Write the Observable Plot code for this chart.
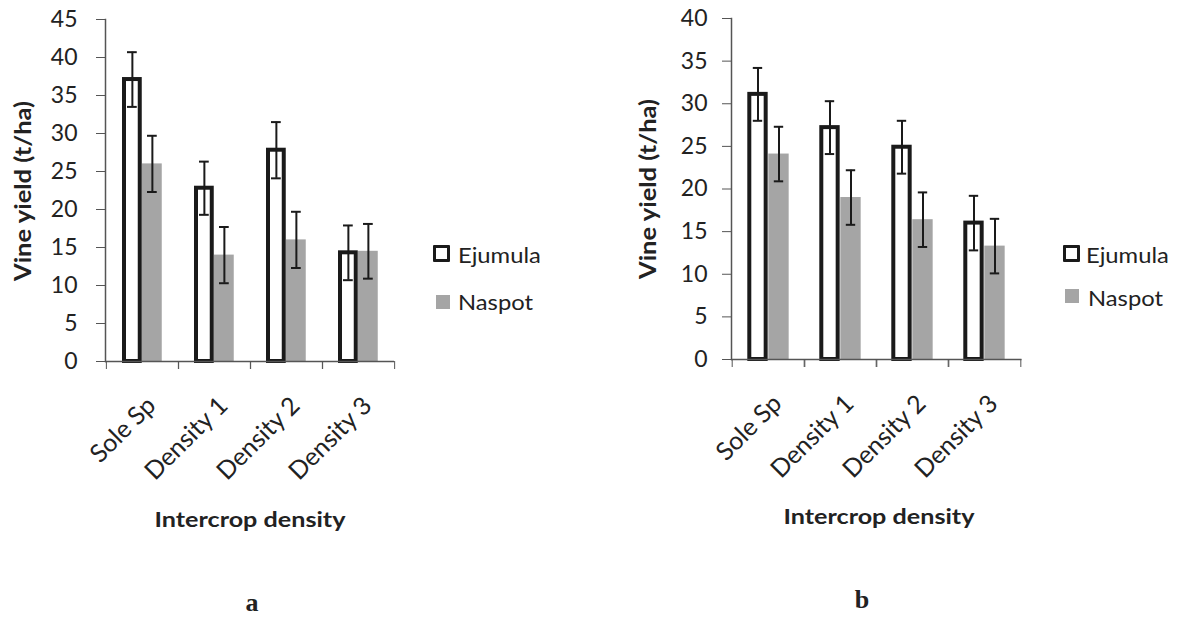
<!DOCTYPE html>
<html><head><meta charset="utf-8">
<script src="https://cdn.jsdelivr.net/npm/d3@7"></script>
<script src="https://cdn.jsdelivr.net/npm/@observablehq/plot@0.6"></script>
<style>
body{margin:0;background:#fff;width:1183px;height:619px;position:relative;overflow:hidden;font-family:Lato,sans-serif;color:#222}
.abs{position:absolute;white-space:nowrap}
.c{transform:translate(-50%,-50%) scaleX(1.17)}
.bold{font-weight:bold;font-size:21.5px}
.ylab{font-weight:bold;font-size:22px;transform:translate(-50%,-50%) rotate(-90deg) scaleX(1.16)}
.leg{font-size:22px;transform:translateY(-50%) scaleX(1.08);transform-origin:left center}
.boxE{width:11px;height:11px;border:3.5px solid #1a1a1a;background:#fff;border-radius:1px}
.boxN{width:14px;height:14px;background:#a5a5a5}
.panel{font-family:"Liberation Serif",serif;font-weight:bold;font-size:26px;color:#222;transform:translate(-50%,-50%)}
</style></head><body>
<div id="chartA" class="abs" style="left:0;top:0"></div>
<div id="chartB" class="abs" style="left:600px;top:0"></div>

<div class="abs ylab" style="left:22px;top:191px">Vine yield (t/ha)</div>
<div class="abs ylab" style="left:647px;top:189px">Vine yield (t/ha)</div>
<div class="abs bold c" style="left:250px;top:519px">Intercrop density</div>
<div class="abs bold c" style="left:879px;top:516px">Intercrop density</div>
<div class="abs panel" style="left:252px;top:603px">a</div>
<div class="abs panel" style="left:862px;top:600px">b</div>

<div class="abs boxE" style="left:433px;top:245px"></div>
<div class="abs leg" style="left:458px;top:254px">Ejumula</div>
<div class="abs boxN" style="left:436px;top:295px"></div>
<div class="abs leg" style="left:458px;top:301px">Naspot</div>
<div class="abs boxE" style="left:1063px;top:245px"></div>
<div class="abs leg" style="left:1086px;top:254px">Ejumula</div>
<div class="abs boxN" style="left:1065px;top:289px"></div>
<div class="abs leg" style="left:1088px;top:297px">Naspot</div>

<script>
const categories = ["Sole Sp", "Density 1", "Density 2", "Density 3"];
const varieties = ["Ejumula", "Naspot"];

// Panel a
const ejumulaA = [37.1, 22.8, 27.8, 14.3];
const ejumulaErrA = [3.6, 3.5, 3.7, 3.6];
const naspotA = [26.0, 14.0, 16.0, 14.5];
const naspotErrA = [3.7, 3.7, 3.7, 3.6];
const yTicksA = [0, 5, 10, 15, 20, 25, 30, 35, 40, 45];

// Panel b
const ejumulaB = [31.1, 27.2, 24.9, 16.0];
const ejumulaErrB = [3.1, 3.1, 3.1, 3.2];
const naspotB = [24.1, 19.0, 16.4, 13.3];
const naspotErrB = [3.2, 3.2, 3.2, 3.2];
const yTicksB = [0, 5, 10, 15, 20, 25, 30, 35, 40];

function buildRows(ej, ejErr, na, naErr) {
  const out = [];
  categories.forEach((c, i) => {
    out.push({cat: c, variety: varieties[0], value: ej[i], err: ejErr[i]});
    out.push({cat: c, variety: varieties[1], value: na[i], err: naErr[i]});
  });
  return out;
}

function draw(data, yTicks, g) {
  const band = (g.width - g.marginLeft - g.marginRight) / categories.length;
  const ej = data.filter(d => d.variety === "Ejumula");
  const na = data.filter(d => d.variety === "Naspot");
  const sw = 4;
  const ejC = g.pad + g.barW / 2;
  const naC = g.pad + 1.5 * g.barW;
  const capW = 10;
  const ink = "#1a1a1a";
  const axisInk = "#555";
  return Plot.plot({
    width: g.width, height: 619,
    marginLeft: g.marginLeft, marginRight: g.marginRight,
    marginTop: g.marginTop, marginBottom: g.marginBottom,
    style: {fontFamily: "Lato, sans-serif", fontSize: "23px", color: "#222", background: "transparent"},
    x: {domain: categories, padding: 0, label: null},
    y: {domain: [0, yTicks[yTicks.length - 1]], label: null},
    marks: [
      Plot.barY(ej, {x: "cat", y: "value", fill: "#fff", stroke: ink, strokeWidth: sw,
        insetLeft: g.pad + sw / 2, insetRight: band - g.pad - g.barW + sw / 2}),
      Plot.barY(na, {x: "cat", y: "value", fill: "#a5a5a5",
        insetLeft: g.pad + g.barW, insetRight: band - g.pad - 2 * g.barW}),
      Plot.ruleX(ej, {x: "cat", y1: d => d.value - d.err, y2: d => d.value + d.err, dx: ejC - band / 2, stroke: ink, strokeWidth: 2}),
      Plot.ruleX(na, {x: "cat", y1: d => d.value - d.err, y2: d => d.value + d.err, dx: naC - band / 2, stroke: ink, strokeWidth: 2}),
      Plot.tickY(ej, {x: "cat", y: d => d.value + d.err, insetLeft: ejC - capW / 2, insetRight: band - ejC - capW / 2, stroke: ink, strokeWidth: 2}),
      Plot.tickY(ej, {x: "cat", y: d => d.value - d.err, insetLeft: ejC - capW / 2, insetRight: band - ejC - capW / 2, stroke: ink, strokeWidth: 2}),
      Plot.tickY(na, {x: "cat", y: d => d.value + d.err, insetLeft: naC - capW / 2, insetRight: band - naC - capW / 2, stroke: ink, strokeWidth: 2}),
      Plot.tickY(na, {x: "cat", y: d => d.value - d.err, insetLeft: naC - capW / 2, insetRight: band - naC - capW / 2, stroke: ink, strokeWidth: 2}),
      Plot.frame({anchor: "left", stroke: axisInk, strokeWidth: 1.5}),
      Plot.ruleY([0], {stroke: axisInk, strokeWidth: 1.5}),
      Plot.axisY({ticks: yTicks, tickSize: 9, tickPadding: g.yPad, stroke: axisInk, label: null}),
      Plot.axisX({tickSize: 0, tickPadding: 40, tickRotate: -45, dx: 9, fontSize: 25, label: null}),
      Plot.axisX({tickSize: 8, tickFormat: () => "", dx: -band / 2, stroke: axisInk, label: null}),
      Plot.axisX({tickSize: 8, tickFormat: () => "", dx: band / 2, stroke: axisInk, label: null})
    ]
  });
}

const rowsA = buildRows(ejumulaA, ejumulaErrA, naspotA, naspotErrA);
const rowsB = buildRows(ejumulaB, ejumulaErrB, naspotB, naspotErrB);

document.getElementById("chartA").append(draw(rowsA, yTicksA, {
  width: 600, marginLeft: 105, marginRight: 206, marginTop: 19, marginBottom: 258,
  barW: 20, pad: 16, yPad: 19
}));
document.getElementById("chartB").append(draw(rowsB, yTicksB, {
  width: 583, marginLeft: 131, marginRight: 161.5, marginTop: 18, marginBottom: 260,
  barW: 21, pad: 15.3, yPad: 15
}));
</script>
</body></html>
